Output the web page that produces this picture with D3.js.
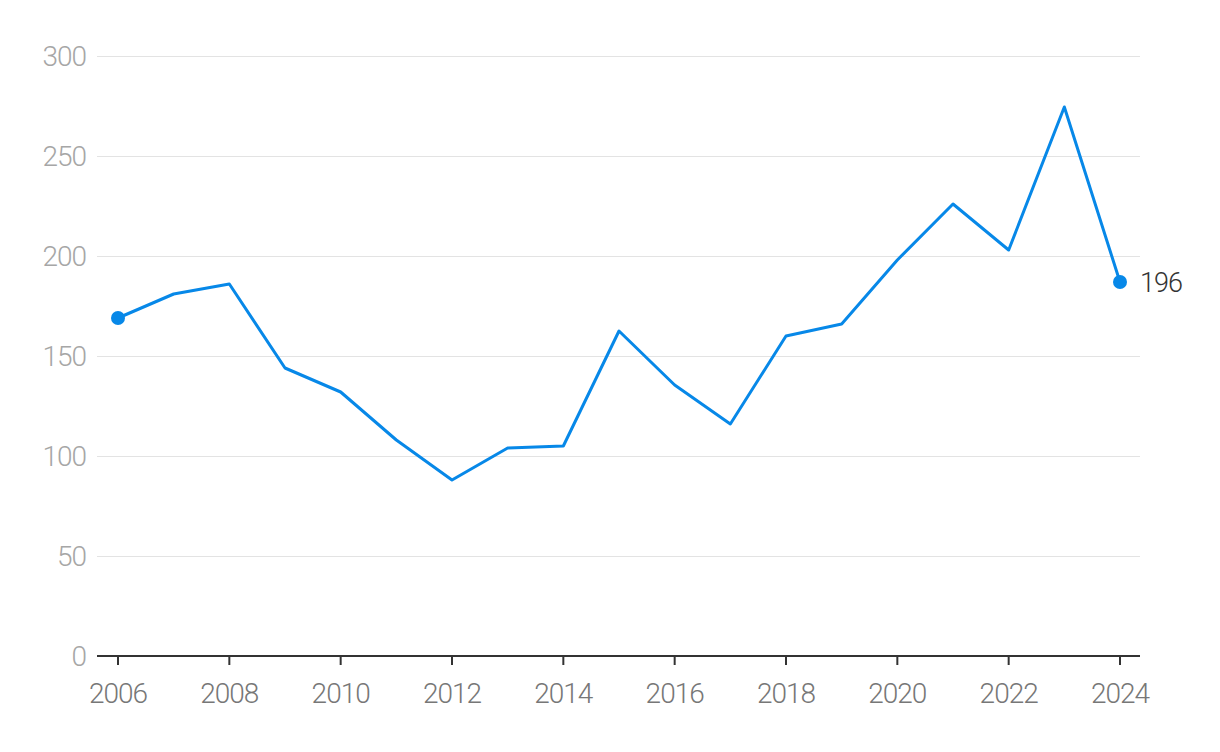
<!DOCTYPE html>
<meta charset="utf-8">
<style>
 body { margin: 0; background: #fff; }
 .grid line { stroke: #e3e3e3; stroke-width: 1; shape-rendering: crispEdges; }
 .ylab { font: 300 28px Roboto, sans-serif; letter-spacing: -1px; fill: #a6a6a6; }
 .xlab { font: 300 28px Roboto, sans-serif; letter-spacing: -1px; fill: #777; }
 .endlab { font: 300 27px Roboto, sans-serif; letter-spacing: -1px; fill: #333; }
</style>
<body>
<svg width="1220" height="752"></svg>
<script src="https://cdn.jsdelivr.net/npm/d3@7"></script>
<script>

 var years = [2006, 2007, 2008, 2009, 2010, 2011, 2012, 2013, 2014, 2015,
              2016, 2017, 2018, 2019, 2020, 2021, 2022, 2023, 2024];
 var values = [169, 181, 186, 144, 132, 108, 88, 104, 105, 162.5,
               135.5, 116, 160, 166, 198, 226, 203, 274.5, 187];
 var yTicks = [0, 50, 100, 150, 200, 250, 300];
 var xTicks = [2006, 2008, 2010, 2012, 2014, 2016, 2018, 2020, 2022, 2024];
 var endLabel = "196";

 var svg = d3.select("svg");

 var x = d3.scaleLinear().domain([2006, 2024]).range([118, 1120]);
 var y = d3.scaleLinear().domain([0, 300]).range([656, 56]);

 var data = years.map(function(d, i) { return {year: d, value: values[i]}; });

 // gridlines + y labels
 var grid = svg.append("g").attr("class", "grid");
 grid.selectAll("line").data(yTicks.filter(function(d) { return d > 0; }))
     .enter().append("line")
     .attr("x1", 97).attr("x2", 1140)
     .attr("y1", function(d) { return Math.round(y(d)) + 0.5; })
     .attr("y2", function(d) { return Math.round(y(d)) + 0.5; });

 svg.append("g").selectAll("text").data(yTicks).enter().append("text")
    .attr("class", "ylab")
    .attr("x", 86)
    .attr("y", function(d) { return y(d); })
    .attr("dy", "0.36em")
    .attr("text-anchor", "end")
    .text(function(d) { return d; });

 // x axis
 var xAxis = svg.append("g");
 xAxis.append("line")
      .attr("x1", 97).attr("x2", 1140)
      .attr("y1", 656).attr("y2", 656)
      .style("stroke", "#333").style("stroke-width", 2);
 xAxis.selectAll(".tick").data(xTicks).enter().append("line")
      .attr("x1", function(d) { return x(d); })
      .attr("x2", function(d) { return x(d); })
      .attr("y1", 656).attr("y2", 665)
      .style("stroke", "#333").style("stroke-width", 2);
 xAxis.selectAll("text").data(xTicks).enter().append("text")
      .attr("class", "xlab")
      .attr("x", function(d) { return x(d); })
      .attr("y", 703)
      .attr("text-anchor", "middle")
      .text(function(d) { return d; });

 // line
 var line = d3.line()
     .x(function(d) { return x(d.year); })
     .y(function(d) { return y(d.value); });

 svg.append("path")
    .datum(data)
    .attr("d", line)
    .style("fill", "none")
    .style("stroke", "#0788e8")
    .style("stroke-width", 3)
    .style("stroke-linejoin", "round");

 var ends = [data[0], data[data.length - 1]];
 svg.selectAll(".dot").data(ends).enter().append("circle")
    .attr("cx", function(d) { return x(d.year); })
    .attr("cy", function(d) { return y(d.value); })
    .attr("r", 7)
    .style("fill", "#0788e8");

 var last = data[data.length - 1];
 svg.append("text")
    .attr("class", "endlab")
    .attr("x", x(last.year) + 20)
    .attr("y", y(last.value))
    .attr("dy", "0.36em")
    .text(endLabel);

</script>
</body>
